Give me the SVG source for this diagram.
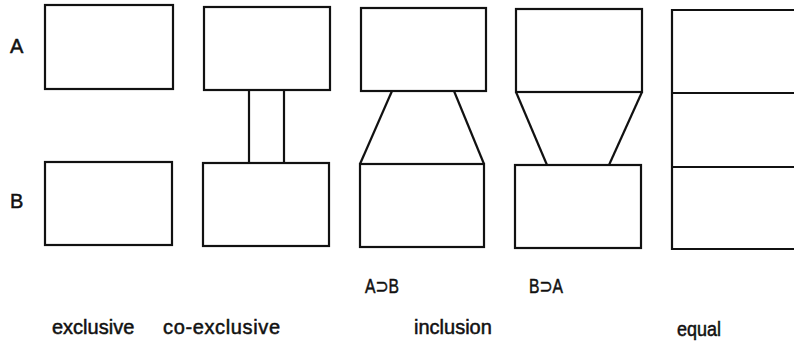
<svg xmlns="http://www.w3.org/2000/svg" width="794" height="343" viewBox="0 0 794 343">
<style>
.b{fill:none;stroke:#111;stroke-width:2.2}
.c{fill:none;stroke:#111;stroke-width:2.2}
text{font-family:"Liberation Sans",Arial,"DejaVu Sans",sans-serif;font-size:20px;fill:#111;stroke:#111;stroke-width:0.5}
.s{font-family:"DejaVu Sans","Liberation Sans",sans-serif;font-size:17px}
</style>
<rect width="794" height="343" fill="#fff"/>
<g id="labelA"><text x="10" y="53">A</text></g>
<g id="labelB"><text x="10" y="208">B</text></g>
<g id="excl-A"><rect class="b" x="45" y="5" width="128" height="84"/></g>
<g id="excl-B"><rect class="b" x="45" y="162" width="127" height="83"/></g>
<g id="coexcl-A"><rect class="b" x="204" y="7" width="126" height="83"/></g>
<g id="coexcl-B"><rect class="b" x="203" y="163" width="126" height="83"/></g>
<g id="incAB-A"><rect class="b" x="361" y="8" width="125" height="83"/></g>
<g id="incAB-B"><rect class="b" x="360" y="164" width="124" height="83"/></g>
<g id="incBA-A"><rect class="b" x="516" y="9" width="126" height="83"/></g>
<g id="incBA-B"><rect class="b" x="515" y="165" width="126" height="83"/></g>
<g id="equal"><path class="b" d="M800,10 H672 V249 H800 M672,93 H800 M672,167 H800"/></g>
<g id="connectors">
<line class="c" x1="249" y1="90" x2="249" y2="163"/>
<line class="c" x1="284" y1="90" x2="284" y2="163"/>
<line class="c" x1="392" y1="91" x2="360" y2="164"/>
<line class="c" x1="454" y1="91" x2="484" y2="164"/>
<line class="c" x1="516" y1="92" x2="547" y2="165"/>
<line class="c" x1="642" y1="92" x2="609" y2="165"/>
</g>
<g id="captions">
<text x="365" y="293" textLength="34" lengthAdjust="spacingAndGlyphs">A⊃B</text>
<text x="529" y="293" textLength="34" lengthAdjust="spacingAndGlyphs">B⊃A</text>
<text x="52" y="334">exclusive</text>
<text x="163" y="334" textLength="117" lengthAdjust="spacing">co-exclusive</text>
<text x="414" y="334">inclusion</text>
<text x="677" y="336" textLength="44" lengthAdjust="spacingAndGlyphs">equal</text>
</g>
</svg>
